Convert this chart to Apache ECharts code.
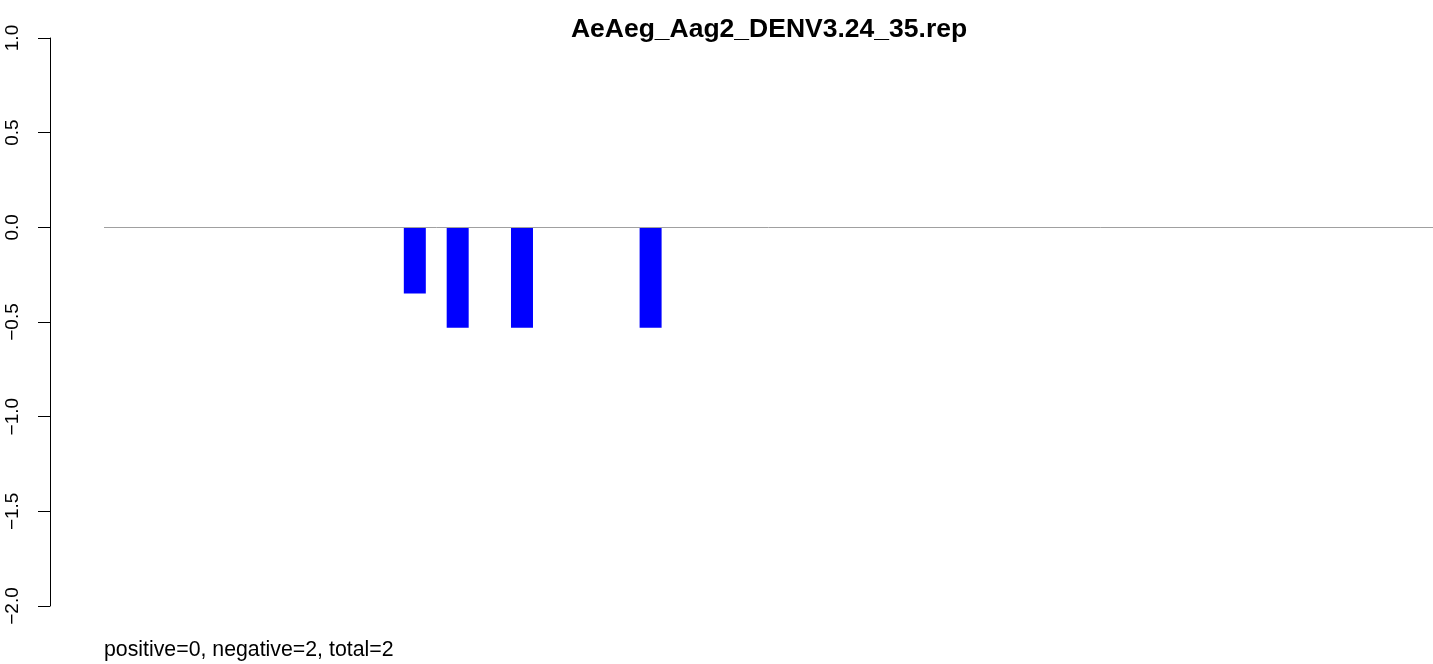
<!DOCTYPE html>
<html>
<head>
<meta charset="utf-8">
<script src="https://cdn.jsdelivr.net/npm/echarts@6/dist/echarts.min.js"></script>
<style>
html,body{margin:0;padding:0;background:#fff;}
#chart{width:1433px;height:664px;}
</style>
</head>
<body>
<div id="chart"></div>
<script>
// Data
var titleText = 'AeAeg_Aag2_DENV3.24_35.rep';
var footerText = 'positive=0, negative=2, total=2';
var positions = [15, 17, 20, 26];
var values = [-0.35, -0.53, -0.53, -0.53];
var yTicks = [-2.0, -1.5, -1.0, -0.5, 0.0, 0.5, 1.0];
var xRange = [0.5, 62.5];

var font = '"Liberation Sans", Arial, Helvetica, sans-serif';
var barData = positions.map(function (p, i) { return [p, values[i]]; });

var chart = echarts.init(document.getElementById('chart'), null, {renderer: 'canvas'});
chart.setOption({
  animation: false,
  backgroundColor: '#ffffff',
  title: {
    text: titleText,
    left: 764, textAlign: 'center',
    top: 11,
    textStyle: {fontFamily: font, fontWeight: 'bold', fontSize: 26.5, color: '#000'}
  },
  graphic: [{
    type: 'text',
    left: 104, top: 640,
    style: {text: footerText, font: '21.3px ' + font, fill: '#000'}
  }],
  grid: {left: 104, right: 0, top: 38, bottom: 58, containLabel: false},
  xAxis: {
    type: 'value', min: xRange[0], max: xRange[1],
    show: false
  },
  yAxis: {
    type: 'value', min: yTicks[0], max: yTicks[yTicks.length - 1], interval: 0.5,
    offset: 54,
    axisLine: {show: true, lineStyle: {color: '#000', width: 1}},
    axisTick: {show: true, length: 12, lineStyle: {color: '#000'}},
    splitLine: {show: false},
    axisLabel: {
      rotate: 90, margin: 28, color: '#000', fontFamily: font, fontSize: 19,
      formatter: function (v) { return (v < 0 ? '\u2212' : '') + Math.abs(v).toFixed(1); }
    }
  },
  series: [{
    type: 'bar',
    data: barData,
    barWidth: 22,
    itemStyle: {color: '#0000ff'},
    markLine: {
      silent: true, symbol: 'none', z: 10,
      label: {show: false},
      lineStyle: {color: '#a0a0a0', width: 1, type: 'solid'},
      data: [{yAxis: 0}]
    }
  }]
});
</script>
</body>
</html>
